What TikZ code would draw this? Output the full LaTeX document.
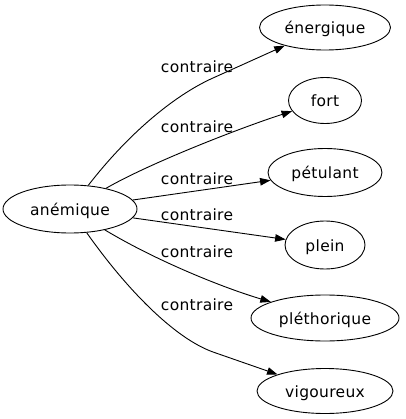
\documentclass[tikz,border=0pt]{standalone}
\usepackage{fontspec}
\setmainfont{DejaVu Sans}[LetterSpace=2]
\usetikzlibrary{shapes.geometric,arrows.meta}
\begin{document}
\begin{tikzpicture}[x=1pt,y=-1pt,
  every node/.style={font=\fontsize{15.5}{17}\selectfont, inner sep=0pt, text height=14pt, text depth=2pt},
  term/.style={ellipse, draw, line width=0.9pt},
  edge/.style={draw, line width=0.9pt, -{Triangle[length=10.5pt,width=7.5pt]}}]
\useasboundingbox (0,0) rectangle (405,419);
\node[term, minimum width=134pt, minimum height=48pt] (a) at (70,209) {anémique};
\node[term, minimum width=131pt, minimum height=45pt] (n1) at (325,27.5) {énergique};
\node[term, minimum width=73pt, minimum height=46pt] (n2) at (325,100.5) {fort};
\node[term, minimum width=114pt, minimum height=48pt] (n3) at (325,172.5) {pétulant};
\node[term, minimum width=80pt, minimum height=48pt] (n4) at (325,245) {plein};
\node[term, minimum width=148pt, minimum height=46pt] (n5) at (325,318) {pléthorique};
\node[term, minimum width=136pt, minimum height=45pt] (n6) at (325,391) {vigoureux};
\node (l1) at (197,67) {contraire};
\node (l2) at (197,127) {contraire};
\node (l3) at (197,179) {contraire};
\node (l4) at (197,214) {contraire};
\node (l5) at (197,251) {contraire};
\node (l6) at (197,304) {contraire};
\draw[edge] (a) .. controls (128,134) and (174,95.5) .. (213,78) -- (n1);
\draw[edge] (a) .. controls (150,163) and (240,128) .. (n2);
\draw[edge] (a) -- (n3);
\draw[edge] (a) -- (n4);
\draw[edge] (a) .. controls (157.5,261.5) and (224,288) .. (n5);
\draw[edge] (a) .. controls (126,288.5) and (174,338) .. (213,352) -- (n6);
\end{tikzpicture}
\end{document}
